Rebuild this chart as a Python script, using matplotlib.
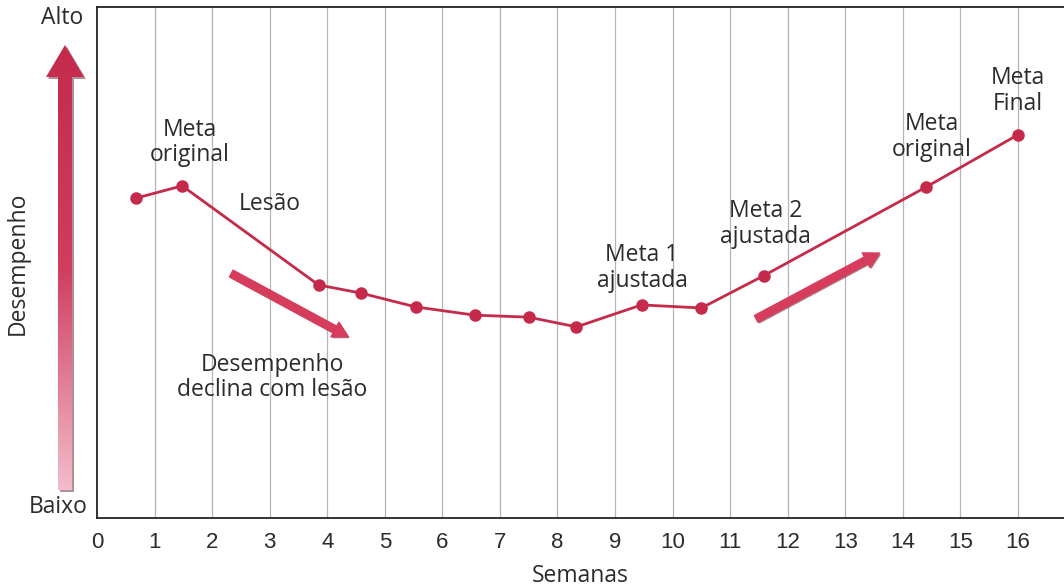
import numpy as np
import matplotlib
matplotlib.use("Agg")
import matplotlib.pyplot as plt
from matplotlib.patches import Polygon, FancyArrowPatch
from matplotlib import patheffects as pe
from matplotlib.colors import LinearSegmentedColormap

# data (weeks vs. relative performance 0-100)
semanas = [0.68, 1.48, 3.85, 4.59, 5.54, 6.56, 7.50, 8.33, 9.46, 10.50, 11.58, 14.41, 16.0]
desempenho = [62.6, 65.0, 45.6, 44.0, 41.3, 39.7, 39.3, 37.4, 41.7, 41.1, 47.4, 64.8, 75.0]
x_ticks = list(range(0, 17))

# labels: (text, x, y)
labels = [
    ("Meta\noriginal", 1.61, 73.5),
    ("Lesão", 3.0, 61.5),
    ("Desempenho\ndeclina com lesão", 3.04, 27.5),
    ("Meta 1\najustada", 9.47, 49.0),
    ("Meta 2\najustada", 11.62, 57.5),
    ("Meta\noriginal", 14.50, 74.5),
    ("Meta\nFinal", 16.0, 83.5),
]
# trend arrows: (start, end) in data units
trend_arrows = [((2.29, 48.1), (4.41, 35.2)), ((11.41, 38.7), (13.64, 52.1))]

RED = "#c62a4b"
ARROW = "#d63c5c"
TXT = "#2b2b2b"
FS = 16.5

plt.rcParams['font.family'] = ['Open Sans', 'DejaVu Sans']

fig = plt.figure(figsize=(10.64, 5.87), dpi=100)
ax = fig.add_axes([97 / 1064, 69 / 587, 967 / 1064, 511 / 587])

ax.set_xlim(0, 16.8)
ax.set_ylim(0, 100)
ax.set_xticks(x_ticks)
ax.set_xticklabels([str(t) for t in x_ticks], family='Liberation Sans', fontsize=16, color=TXT)
ax.set_yticks([])
ax.tick_params(axis='x', length=0, pad=10)
for t in x_ticks[1:]:
    ax.axvline(t, color='#b5b5b5', lw=0.9, zorder=0)
ax.spines['right'].set_visible(False)
for s in ['left', 'bottom', 'top']:
    ax.spines[s].set_linewidth(1.3)
    ax.spines[s].set_color('#222222')

ax.plot(semanas, desempenho, color=RED, lw=2, marker='o', markersize=8,
        markerfacecolor=RED, markeredgecolor=RED, zorder=3)

for txt, x, y in labels:
    ax.text(x, y, txt, ha='center', va='center', fontsize=FS, color=TXT,
            linespacing=1.1, zorder=4)

for start, end in trend_arrows:
    arr = FancyArrowPatch(start, end, mutation_scale=1,
                          arrowstyle='simple,head_length=11,head_width=12,tail_width=5.5',
                          color=ARROW, zorder=2)
    arr.set_path_effects([pe.SimplePatchShadow(offset=(1.0, -1.0), shadow_rgbFace='#5a1020', alpha=0.5),
                          pe.Normal()])
    ax.add_patch(arr)

ax.set_xlabel('Semanas', fontsize=FS, color=TXT, labelpad=8)

# overlay in pixel coordinates for the big gradient arrow outside the axes
ov = fig.add_axes([0, 0, 1, 1], zorder=-1)
ov.set_xlim(0, 1064)
ov.set_ylim(587, 0)
ov.axis('off')

verts = [(58, 490), (72, 490), (72, 77), (84, 77), (65, 45), (46, 77), (58, 77)]
shadow = Polygon([(x + 2, y + 2) for x, y in verts], closed=True, fc='#7a4a55', ec='none', alpha=0.6)
ov.add_patch(shadow)
poly = Polygon(verts, closed=True, fc='none', ec='none')
ov.add_patch(poly)
cmap = LinearSegmentedColormap.from_list('arr', ['#c42a4c', '#cf3d5f', '#f3bccb'])
grad = np.linspace(0, 1, 256).reshape(-1, 1)
im = ov.imshow(grad, cmap=cmap, extent=(40, 90, 490, 45), origin='upper', aspect='auto', zorder=2)
im.set_clip_path(poly)

fig.text(62 / 1064, 1 - 18 / 587, 'Alto', ha='center', va='center', fontsize=FS, color=TXT)
fig.text(58 / 1064, 1 - 507 / 587, 'Baixo', ha='center', va='center', fontsize=FS, color=TXT)
fig.text(18 / 1064, 1 - 263 / 587, 'Desempenho', ha='center', va='center', fontsize=FS,
         color=TXT, rotation=90)

fig.savefig('out.png', dpi=100)
